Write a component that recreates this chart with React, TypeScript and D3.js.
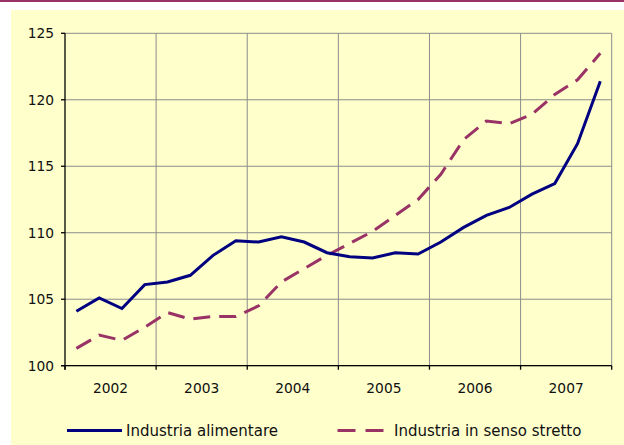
import React from "react";
import * as d3 from "d3";

const years = ["2002", "2003", "2004", "2005", "2006", "2007"];
const quarters = ["Q1", "Q2", "Q3", "Q4"];
const alimentare = [
  104.1, 105.1, 104.3, 106.1,
  106.3, 106.8, 108.3, 109.4,
  109.3, 109.7, 109.3, 108.5,
  108.2, 108.1, 108.5, 108.4,
  109.3, 110.4, 111.3, 111.9,
  112.9, 113.7, 116.7, 121.4,
];
const sensoStretto = [
  101.3, 102.3, 101.9, 102.9,
  104.0, 103.5, 103.7, 103.7,
  104.5, 106.3, 107.3, 108.3,
  109.2, 110.1, 111.3, 112.5,
  114.4, 117.0, 118.4, 118.2,
  118.9, 120.4, 121.5, 123.5,
];
const yTicks = [100, 105, 110, 115, 120, 125];

const W = 624, H = 445;
const L = 65, R = 611.7, T = 33.3, B = 365.7;

export default function App() {
  const periods = years.flatMap((y) => quarters.map((q) => `${y}-${q}`));
  const x = d3.scaleBand<string>().domain(periods).range([L, R]);
  const xYear = d3.scaleBand<string>().domain(years).range([L, R]);
  const y = d3.scaleLinear().domain([100, 125]).range([B, T]);
  const cx = (i: number) => (x(periods[i]) as number) + x.bandwidth() / 2;
  const line = d3.line<number>().x((_, i) => cx(i)).y((d) => y(d));
  const font = "'DejaVu Sans', Verdana, sans-serif";
  const boundaries = years.map((yr) => xYear(yr) as number).concat([R]);

  return (
    <svg width={W} height={H} style={{ position: "absolute", left: 0, top: 0 }}>
      <rect x={0} y={0} width={W} height={H} fill="#ffffff" />
      <rect x={11} y={10} width={W - 11} height={H - 10} fill="#FFFFCC" />
      <rect x={0} y={0} width={W} height={2} fill="#993366" />
      {yTicks.map((t) => (
        <line key={"h" + t} x1={L} x2={R} y1={y(t)} y2={y(t)} stroke="#8c8c8c" strokeWidth={1} />
      ))}
      {boundaries.slice(1).map((bx, i) => (
        <line key={"v" + i} x1={bx} x2={bx} y1={T} y2={B} stroke="#8c8c8c" strokeWidth={1} />
      ))}
      <line x1={L} x2={L} y1={T} y2={B + 4} stroke="#000" strokeWidth={1.3} />
      <line x1={L - 4} x2={R} y1={B} y2={B} stroke="#000" strokeWidth={1.3} />
      {yTicks.map((t) => (
        <line key={"yt" + t} x1={L - 4} x2={L} y1={y(t)} y2={y(t)} stroke="#000" strokeWidth={1.3} />
      ))}
      {boundaries.map((bx, i) => (
        <line key={"xt" + i} x1={bx} x2={bx} y1={B} y2={B + 4} stroke="#000" strokeWidth={1.3} />
      ))}
      {yTicks.map((t) => (
        <text key={"yl" + t} x={L - 11} y={y(t)} dy="0.36em" textAnchor="end" fontFamily={font} fontSize={13.8} fill="#111">
          {t}
        </text>
      ))}
      {years.map((yr) => (
        <text key={"xl" + yr} x={(xYear(yr) as number) + xYear.bandwidth() / 2} y={392.5} textAnchor="middle" fontFamily={font} fontSize={13.8} fill="#111">
          {yr}
        </text>
      ))}
      <path d={line(sensoStretto) || ""} fill="none" stroke="#993366" strokeWidth={3} strokeDasharray="17,9" />
      <path d={line(alimentare) || ""} fill="none" stroke="#000080" strokeWidth={3} />
      <line x1={67} x2={122} y1={430.5} y2={430.5} stroke="#000080" strokeWidth={3} />
      <text x={126} y={436} fontFamily={font} fontSize={15} fill="#111">Industria alimentare</text>
      <line x1={337.5} x2={385} y1={430.5} y2={430.5} stroke="#993366" strokeWidth={3} strokeDasharray="18,10" />
      <text x={394} y={436} fontFamily={font} fontSize={15} fill="#111">Industria in senso stretto</text>
    </svg>
  );
}
